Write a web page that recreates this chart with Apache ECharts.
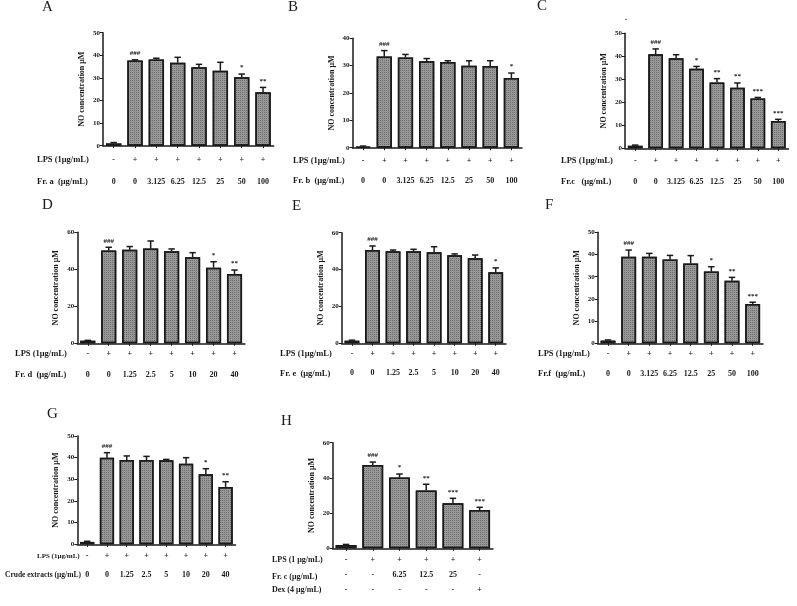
<!DOCTYPE html>
<html><head><meta charset="utf-8">
<script src="https://cdn.jsdelivr.net/npm/echarts@6/dist/echarts.min.js"></script>
<style>html,body{margin:0;padding:0;background:#fff}#c{width:797px;height:606px}</style>
</head><body><div id="c"></div>
<script>
// ---------------- DATA ----------------
const lpsSigns = ['-','+','+','+','+','+','+','+'];
const concHigh = ['0','0','3.125','6.25','12.5','25','50','100'];
const concLow = ['0','0','1.25','2.5','5','10','20','40'];

const aValues = [1.0, 37.7, 38.1, 36.7, 34.7, 33.2, 30.3, 23.6];
const aErrors = [0.4, 0.3, 0.6, 2.4, 1.3, 3.7, 1.4, 2.2];
const aMarks  = ['', '###', '', '', '', '', '*', '**'];

const bValues = [0.4, 33.3, 33.0, 31.6, 31.3, 30.0, 29.9, 25.5];
const bErrors = [0.2, 2.2, 1.1, 1.0, 0.5, 1.8, 1.9, 1.8];
const bMarks  = ['', '###', '', '', '', '', '', '*'];

const cValues = [1.1, 40.9, 39.2, 34.6, 28.6, 26.3, 21.7, 11.9];
const cErrors = [0.3, 2.3, 1.5, 1.0, 1.7, 2.1, 0.4, 0.7];
const cMarks  = ['', '###', '', '*', '**', '**', '***', '***'];

const dValues = [1.4, 50.1, 50.5, 51.2, 49.7, 46.5, 40.9, 37.5];
const dErrors = [0.2, 1.8, 1.8, 4.1, 1.3, 2.5, 3.2, 2.1];
const dMarks  = ['', '###', '', '', '', '', '*', '**'];

const eValues = [1.4, 50.6, 49.9, 49.9, 49.4, 47.7, 46.1, 38.5];
const eErrors = [0.3, 2.2, 0.7, 1.1, 3.0, 0.8, 1.8, 2.4];
const eMarks  = ['', '###', '', '', '', '', '', '*'];

const fValues = [1.2, 39.0, 39.0, 37.8, 36.0, 32.3, 28.2, 17.7];
const fErrors = [0.3, 3.0, 1.5, 1.8, 3.5, 2.2, 1.5, 0.8];
const fMarks  = ['', '###', '', '', '', '*', '**', '***'];

const gValues = [1.1, 40.0, 38.9, 38.9, 38.8, 37.2, 32.3, 26.5];
const gErrors = [0.3, 2.3, 1.9, 1.7, 0.4, 2.8, 2.6, 2.4];
const gMarks  = ['', '###', '', '', '', '', '*', '**'];

const hValues = [1.9, 47.3, 40.2, 32.8, 25.6, 21.8];
const hErrors = [0.3, 1.7, 2.0, 3.6, 2.8, 1.5];
const hMarks  = ['', '###', '*', '**', '***', '***'];
const hLps = ['-','+','+','+','+','+'];
const hFrc = ['-','-','6.25','12.5','25','-'];
const hDex = ['-','-','-','-','-','+'];

const panelLetters = ['A','B','C','D','E','F','G','H'];
const yTitle = 'NO concentration μM';
const rowTitlesA = ['LPS (1μg/mL)', 'Fr. a  (μg/mL)'];
const rowTitlesB = ['LPS (1μg/mL)', 'Fr. b  (μg/mL)'];
const rowTitlesC = ['LPS (1μg/mL)', 'Fr.c   (μg/mL)'];
const rowTitlesD = ['LPS (1μg/mL)', 'Fr. d  (μg/mL)'];
const rowTitlesE = ['LPS (1μg/mL)', 'Fr. e  (μg/mL)'];
const rowTitlesF = ['LPS (1μg/mL)', 'Fr.f  (μg/mL)'];
const rowTitlesG = ['LPS (1μg/mL)', 'Crude extracts (μg/mL)'];
const rowTitlesH = ['LPS (1 μg/mL)', 'Fr. c (μg/mL)', 'Dex (4 μg/mL)'];

// ---------------- LAYOUT ----------------
const FONT = 'Liberation Serif';
const INK = '#1a1a1a';
const panels = [
  {values:aValues, errors:aErrors, marks:aMarks, rows:[lpsSigns, concHigh], titles:rowTitlesA,
   L:103, R:273.7, T:32.7, Z:145.7, max:50, step:10, margin:3.3, lh:22, bw:'72%', rowFont:[8.5,8.5],
   letter:[48,7.5], rowPos:[[37,160],[37,182]]},
  {values:bValues, errors:bErrors, marks:bMarks, rows:[lpsSigns, concHigh], titles:rowTitlesB,
   L:352.5, R:522, T:38.3, Z:147.7, max:40, step:10, margin:3.3, lh:20, bw:'72%', rowFont:[8.5,8.5],
   letter:[294,7.5], rowPos:[[293,161],[293,181]]},
  {values:cValues, errors:cErrors, marks:cMarks, rows:[lpsSigns, concHigh], titles:rowTitlesC,
   L:625, R:788.5, T:33.3, Z:148.3, max:50, step:10, margin:2.4, lh:20.7, bw:'72%', rowFont:[8.5,8.5],
   letter:[543,7], rowPos:[[561,161],[561,181.7]]},
  {values:dValues, errors:dErrors, marks:dMarks, rows:[lpsSigns, concLow], titles:rowTitlesD,
   L:77.3, R:245, T:232.3, Z:343.3, max:60, step:20, margin:0, lh:21, bw:'72%', rowFont:[8.5,8.5],
   letter:[48,206], rowPos:[[15,353.3],[15,374.3]]},
  {values:eValues, errors:eErrors, marks:eMarks, rows:[lpsSigns, concLow], titles:rowTitlesE,
   L:341.7, R:506, T:232.7, Z:343.3, max:60, step:20, margin:1, lh:19.3, bw:'72%', rowFont:[8.5,8.5],
   letter:[298,206.5], rowPos:[[280,354],[280,373.3]]},
  {values:fValues, errors:fErrors, marks:fMarks, rows:[lpsSigns, concHigh], titles:rowTitlesF,
   L:597.7, R:763, T:232.3, Z:343.3, max:50, step:10, margin:0.7, lh:20, bw:'72%', rowFont:[8.5,8.5],
   letter:[551,206], rowPos:[[538,354],[538,374]]},
  {values:gValues, errors:gErrors, marks:gMarks, rows:[lpsSigns, concLow], titles:rowTitlesG,
   L:77.3, R:235.5, T:436, Z:544.3, max:50, step:10, margin:2.2, lh:19, bw:'72%', rowFont:[7,7.5],
   letter:[53,415], rowPos:[[37,556],[5,575]]},
  {values:hValues, errors:hErrors, marks:hMarks, rows:[hLps, hFrc, hDex], titles:rowTitlesH,
   L:332.7, R:493, T:442.7, Z:548.3, max:60, step:20, margin:4.2, lh:15, bw:'78%', rowFont:[8,8,8],
   letter:[287,421.5], rowPos:[[272,560],[272,576.7],[272,590]]}
];

const grid = [], xAxis = [], yAxis = [], series = [], graphic = [];
panels.forEach((p, i) => {
  grid.push({left:p.L, top:p.T, width:p.R - p.L, height:p.Z - p.T});
  xAxis.push({
    type:'category', gridIndex:i, data:p.values.map((_, k) => String(k)),
    axisLine:{lineStyle:{color:INK, width:1.5}},
    axisTick:{show:true, alignWithLabel:true, length:2.5, lineStyle:{color:INK, width:1}},
    axisLabel:{
      interval:0, margin:p.margin, lineHeight:p.lh, fontFamily:FONT, fontWeight:'bold',
      fontSize:8, color:INK,
      formatter:(v, k) => p.rows.map(r => r[k]).join('\n')
    }
  });
  yAxis.push({
    type:'value', gridIndex:i, min:0, max:p.max, interval:p.step,
    axisLine:{show:true, lineStyle:{color:INK, width:1.5}},
    axisTick:{show:true, length:3, lineStyle:{color:INK, width:1}},
    splitLine:{show:false},
    axisLabel:{fontFamily:FONT, fontWeight:'bold', fontSize:7, color:INK, margin:3},
    name:yTitle, nameLocation:'middle', nameGap:17,
    nameTextStyle:{fontFamily:FONT, fontWeight:'bold', fontSize:8, color:INK}
  });
  series.push({
    type:'bar', xAxisIndex:i, yAxisIndex:i, data:p.values, barWidth:p.bw,
    itemStyle:{color:'#979797', borderColor:INK, borderWidth:1.5,
      decal:{symbol:'rect', symbolSize:1, dashArrayX:[1,1], dashArrayY:[1,1],
             color:'rgba(40,40,40,0.35)', backgroundColor:'rgba(0,0,0,0)'}},
    silent:true, animation:false, z:2
  });
  series.push({
    type:'custom', xAxisIndex:i, yAxisIndex:i,
    data:p.values.map((v, k) => [k, v, p.errors[k]]),
    renderItem:(params, api) => {
      const k = api.value(0), v = api.value(1), e = api.value(2);
      const b = api.coord([k, v]);
      const t = api.coord([k, v + e]);
      const cap = 3.2;
      const mark = p.marks[params.dataIndex];
      const kids = [
        {type:'line', shape:{x1:t[0], y1:b[1], x2:t[0], y2:t[1]}, style:{stroke:INK, lineWidth:1.5}},
        {type:'line', shape:{x1:t[0]-cap, y1:t[1], x2:t[0]+cap, y2:t[1]}, style:{stroke:INK, lineWidth:1.5}}
      ];
      if (mark) {
        kids.push({type:'text', x:t[0], y:t[1]-3,
          style:{text:mark, fill:INK, font:'bold 7px "Liberation Serif"', align:'center', verticalAlign:'bottom'}});
      }
      return {type:'group', children:kids};
    },
    silent:true, animation:false, z:3
  });
  graphic.push({type:'text', left:p.letter[0]-6, top:p.letter[1]-8,
    style:{text:panelLetters[i], font:'15px "Liberation Serif"', fill:INK}});
  p.titles.forEach((tt, r) => {
    graphic.push({type:'text', x:p.rowPos[r][0], y:p.rowPos[r][1],
      style:{text:tt, font:'bold ' + p.rowFont[r] + 'px "Liberation Serif"', fill:INK, verticalAlign:'middle', align:'left'}});
  });
});
graphic.push({type:'text', x:625, y:14, style:{text:'.', font:'bold 8px "Liberation Serif"', fill:INK}});

const chart = echarts.init(document.getElementById('c'), null, {renderer:'canvas'});
chart.setOption({backgroundColor:'#fff', animation:false, grid, xAxis, yAxis, series, graphic});
</script>
</body></html>
